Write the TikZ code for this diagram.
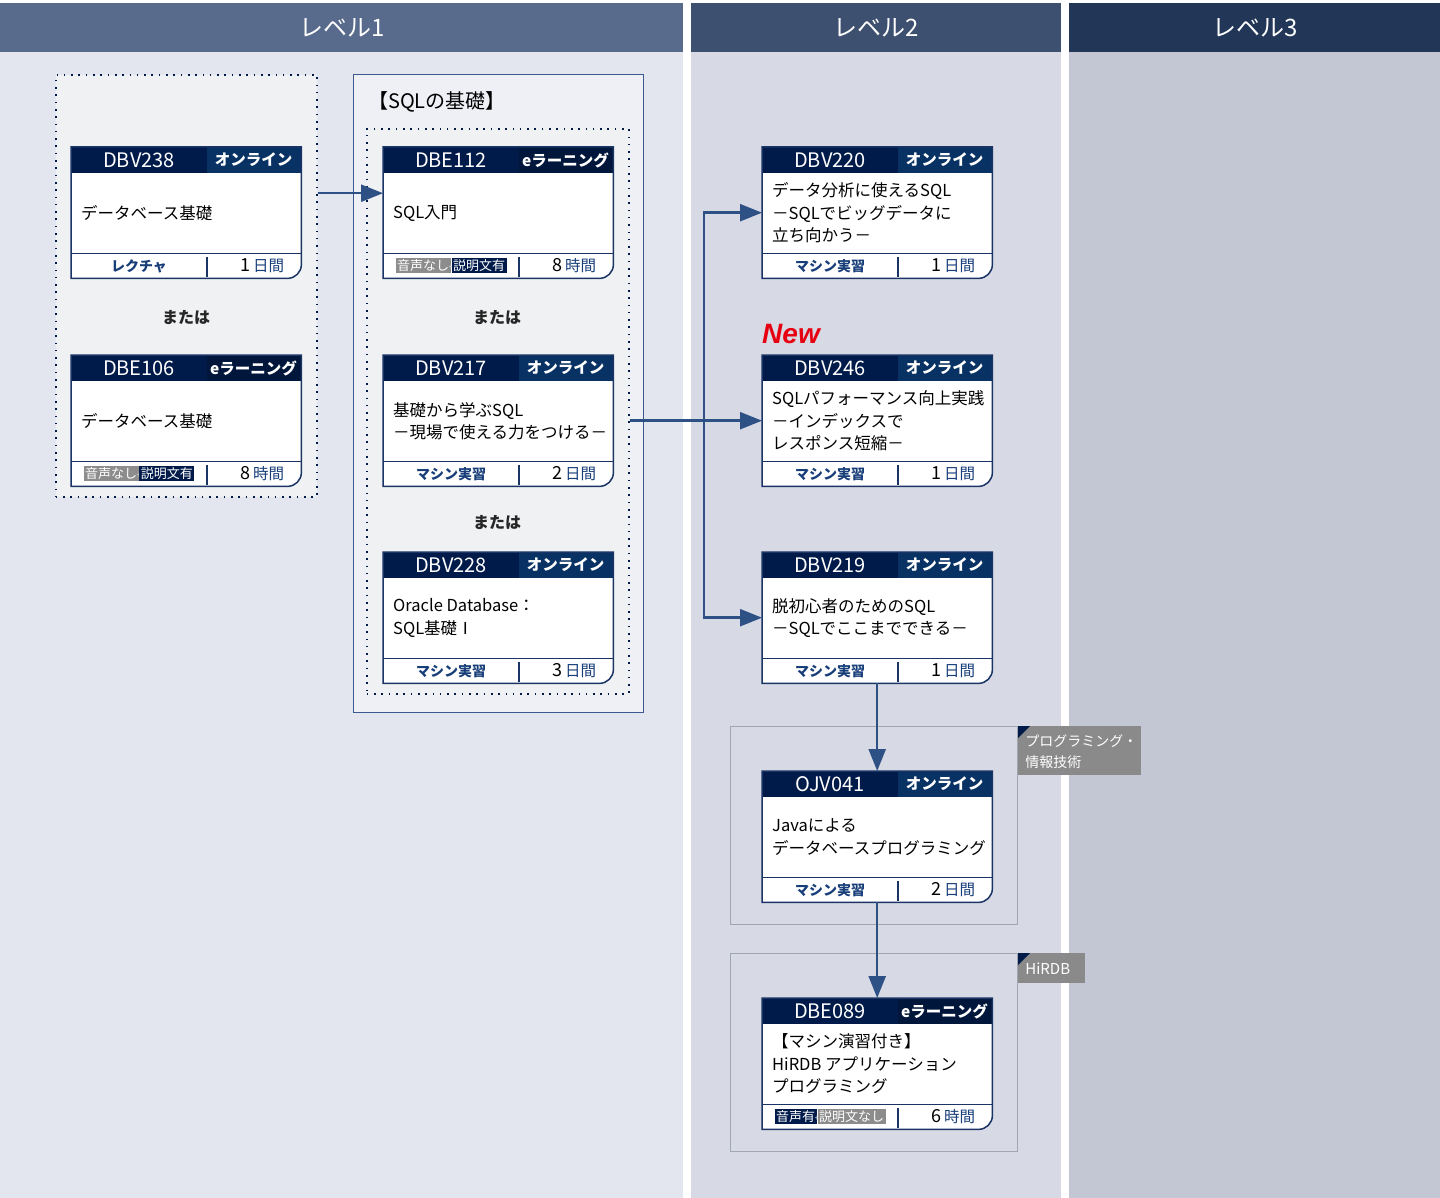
\documentclass[tikz,border=0pt]{standalone}
\usepackage{fontspec}
\setmainfont{Noto Sans CJK JP}
\newfontfamily\newlabelfont{Liberation Sans}
\usepackage{tikz}
\definecolor{headnavy}{RGB}{0,27,74}
\definecolor{onlinebox}{RGB}{8,50,99}
\definecolor{elearnbox}{RGB}{0,22,58}
\definecolor{cardborder}{RGB}{26,52,102}
\definecolor{footblue}{RGB}{24,62,122}
\definecolor{arrowblue}{RGB}{46,81,133}
\definecolor{lvlonehead}{RGB}{88,107,140}
\definecolor{lvltwohead}{RGB}{62,80,111}
\definecolor{lvlthreehead}{RGB}{34,54,88}
\definecolor{lvlonebg}{RGB}{227,230,239}
\definecolor{lvltwobg}{RGB}{215,218,228}
\definecolor{lvlthreebg}{RGB}{195,199,212}
\definecolor{altboxfill}{RGB}{240,241,242}
\definecolor{groupfill}{RGB}{238,240,246}
\definecolor{groupline}{RGB}{60,90,143}
\definecolor{catline}{RGB}{162,166,174}
\definecolor{taggrey}{RGB}{138,138,138}
\definecolor{badgegrey}{RGB}{140,140,140}
\definecolor{newred}{RGB}{230,0,18}
\usetikzlibrary{arrows.meta, positioning, calc}

\tikzset{
  levelhead/.style={anchor=north west, minimum height=49pt, inner sep=0pt, text=white,
                    font=\fontsize{24}{28}\selectfont},
  cardframe/.style={anchor=north west, minimum width=230pt, minimum height=131pt, inner sep=0pt},
  cardline/.style={draw=cardborder, line width=1.5pt},
  codetext/.style={inner sep=0pt, text=white, font=\fontsize{20}{24}\selectfont},
  typetext/.style={inner sep=0pt, text=white, font=\bfseries\fontsize{15.5}{18}\selectfont},
  bodytext/.style={anchor=west, align=left, inner sep=0pt, font=\fontsize{16.5}{22.5}\selectfont},
  foottext/.style={inner sep=0pt, text=footblue, font=\bfseries\fontsize{14}{16}\selectfont},
  daytext/.style={anchor=east, inner sep=0pt, text=footblue, font=\fontsize{15.5}{18}\selectfont},
  dotbox/.style={anchor=north west, inner sep=0pt, draw=headnavy, line width=1.6pt,
                 dash pattern=on 1.6pt off 5.7pt},
  groupbox/.style={anchor=north west, inner sep=0pt, draw=groupline, line width=1pt, fill=groupfill},
  catbox/.style={anchor=north west, inner sep=0pt, draw=catline, line width=1.2pt, fill=lvltwobg,
                 minimum width=287pt, minimum height=198pt},
  tagbox/.style={anchor=north west, inner sep=0pt, fill=taggrey},
  tagtext/.style={anchor=north west, inner sep=0pt, text=white, align=left,
                  font=\fontsize{14}{21}\selectfont},
  ortext/.style={inner sep=0pt, text=black!85, font=\bfseries\fontsize{16}{18}\selectfont},
  flow/.style={draw=arrowblue, line width=2.5pt, -{Triangle[length=22pt,width=17pt]}},
}

% audio / subtitle badges of the e-learning courses
\newcommand{\audiobadge}[4]{{\mdseries\fontsize{13}{15}\selectfont\setlength{\fboxsep}{1.5pt}%
  \colorbox{#1}{\textcolor{white}{#2}}\hspace{-2pt}{\fontsize{9}{9}\selectfont\textcolor{white!85!black}{+}}\hspace{-2pt}%
  \colorbox{#3}{\textcolor{white}{#4}}}}

% one course card: name, position, code, type colour, type, title, footer, number, unit
\newcommand{\course}[9]{%
  \node[cardframe] (#1) at #2 {};
  \fill[white] (#1.north west) -- (#1.north east) -- ([yshift=14pt]#1.south east)
    arc[start angle=0, end angle=-90, radius=14pt] -- (#1.south west) -- cycle;
  \fill[headnavy] (#1.north west) rectangle ([yshift=-26pt]#1.north east);
  \fill[#4] ([xshift=136pt]#1.north west) rectangle ([yshift=-26pt]#1.north east);
  \node[codetext] (#1-code) at ([xshift=68pt,yshift=-13pt]#1.north west) {#3};
  \node[typetext] (#1-type) at ([xshift=182.5pt,yshift=-13pt]#1.north west) {#5};
  \node[bodytext] (#1-title) at ([xshift=10pt,yshift=-66pt]#1.north west) {#6};
  \draw[cardline] ([yshift=25pt]#1.south west) -- ([yshift=25pt]#1.south east);
  \draw[cardline] ([xshift=136pt,yshift=21pt]#1.south west) -- ([xshift=136pt,yshift=1pt]#1.south west);
  \node[foottext] (#1-form) at ([xshift=68pt,yshift=12.5pt]#1.south west) {#7};
  \node[daytext] (#1-days) at ([xshift=-17pt,yshift=12.5pt]#1.south east)
    {{\fontsize{18}{18}\selectfont\textcolor{black}{#8}}\,#9};
  \draw[cardline] (#1.north west) -- (#1.north east) -- ([yshift=14pt]#1.south east)
    arc[start angle=0, end angle=-90, radius=14pt] -- (#1.south west) -- cycle;
}

\begin{document}
\begin{tikzpicture}[x=1pt, y=-1pt]
  \useasboundingbox (0,0) rectangle (1440,1198);
  \fill[white] (0,0) rectangle (1440,1198);

  % level columns
  \fill[lvlonebg] (0,52) rectangle (683,1198);
  \fill[lvltwobg] (691,52) rectangle (1061,1198);
  \fill[lvlthreebg] (1069,52) rectangle (1440,1198);
  \node[levelhead, fill=lvlonehead, minimum width=683pt] (lvl1) at (0,3) {レベル1};
  \node[levelhead, fill=lvltwohead, minimum width=370pt] (lvl2) at (691,3) {レベル2};
  \node[levelhead, fill=lvlthreehead, minimum width=371pt] (lvl3) at (1069,3) {レベル3};

  % groups
  \node[dotbox, fill=altboxfill, minimum width=261pt, minimum height=422pt] (lvl1alt) at (55,74) {};
  \node[groupbox, minimum width=290pt, minimum height=638pt] (sqlgroup) at (353,74) {};
  \node[anchor=west, inner sep=0pt, font=\fontsize{20}{24}\selectfont] (sqltitle) at (368,102) {【SQLの基礎】};
  \node[dotbox, fill=altboxfill, minimum width=262pt, minimum height=565pt] (sqlinner) at (366,128) {};

  \node[catbox] (catprog) at (730,726) {};
  \node[tagbox, minimum width=123pt, minimum height=49pt] (tagprog) at (catprog.north east) {};
  \node[tagtext] (tagprog-text) at ([xshift=7pt,yshift=-8.5pt]tagprog.north west)
    {プログラミング・\\情報技術};
  \fill[headnavy] (tagprog.north west) -- ++(12pt,0pt) -- ++(-12pt,-12pt) -- cycle;

  \node[catbox] (cathirdb) at (730,953) {};
  \node[tagbox, minimum width=67pt, minimum height=30pt] (taghirdb) at (cathirdb.north east) {};
  \node[tagtext, anchor=west, font=\fontsize{15}{18}\selectfont] (taghirdb-text)
    at ([xshift=7pt]taghirdb.west) {HiRDB};
  \fill[headnavy] (taghirdb.north west) -- ++(12pt,0pt) -- ++(-12pt,-12pt) -- cycle;

  % courses
  \course{dbv238}{(71,147)}{DBV238}{onlinebox}{オンライン}{データベース基礎}{レクチャ}{1}{日間}
  \course{dbe106}{(71,355)}{DBE106}{elearnbox}{eラーニング}{データベース基礎}
    {\audiobadge{badgegrey}{音声なし}{headnavy}{説明文有}}{8}{時間}
  \course{dbe112}{(383,147)}{DBE112}{elearnbox}{eラーニング}{SQL入門}
    {\audiobadge{badgegrey}{音声なし}{headnavy}{説明文有}}{8}{時間}
  \course{dbv217}{(383,355)}{DBV217}{onlinebox}{オンライン}{基礎から学ぶSQL\\－現場で使える力をつける－}{マシン実習}{2}{日間}
  \course{dbv228}{(383,552)}{DBV228}{onlinebox}{オンライン}{Oracle Database：\\SQL基礎Ⅰ}{マシン実習}{3}{日間}
  \course{dbv220}{(762,147)}{DBV220}{onlinebox}{オンライン}{データ分析に使えるSQL\\－SQLでビッグデータに\\立ち向かう－}{マシン実習}{1}{日間}
  \course{dbv246}{(762,355)}{DBV246}{onlinebox}{オンライン}{SQLパフォーマンス向上実践\\－インデックスで\\レスポンス短縮－}{マシン実習}{1}{日間}
  \course{dbv219}{(762,552)}{DBV219}{onlinebox}{オンライン}{脱初心者のためのSQL\\－SQLでここまでできる－}{マシン実習}{1}{日間}
  \course{ojv041}{(762,771)}{OJV041}{onlinebox}{オンライン}{Javaによる\\データベースプログラミング}{マシン実習}{2}{日間}
  \course{dbe089}{(762,998)}{DBE089}{elearnbox}{eラーニング}{【マシン演習付き】\\HiRDB アプリケーション\\プログラミング}
    {\audiobadge{headnavy}{音声有}{badgegrey}{説明文なし}}{6}{時間}

  \node[ortext] (or1) at (186,318) {または};
  \node[ortext] (or2) at (497,318) {または};
  \node[ortext] (or3) at (497,523) {または};
  \node[inner sep=0pt, text=newred, font=\newlabelfont\bfseries\itshape\fontsize{28}{30}\selectfont]
    (newmark) at (791,334) {New};

  % connectors
  \coordinate (dbe112-in) at ([yshift=19.5pt]dbe112.west);
  \draw[flow] (lvl1alt.east |- dbe112-in) -- (dbe112-in);
  \draw[flow] (sqlinner.east |- dbv246.west) -- (dbv246.west);
  \path (dbv246.west) ++(-58pt,0pt) coordinate (split);
  \draw[flow] (split) |- (dbv220.west);
  \draw[flow] (split) |- (dbv219.west);
  \draw[flow] (dbv219.south) -- (ojv041.north);
  \draw[flow] (ojv041.south) -- (dbe089.north);
\end{tikzpicture}
\end{document}
